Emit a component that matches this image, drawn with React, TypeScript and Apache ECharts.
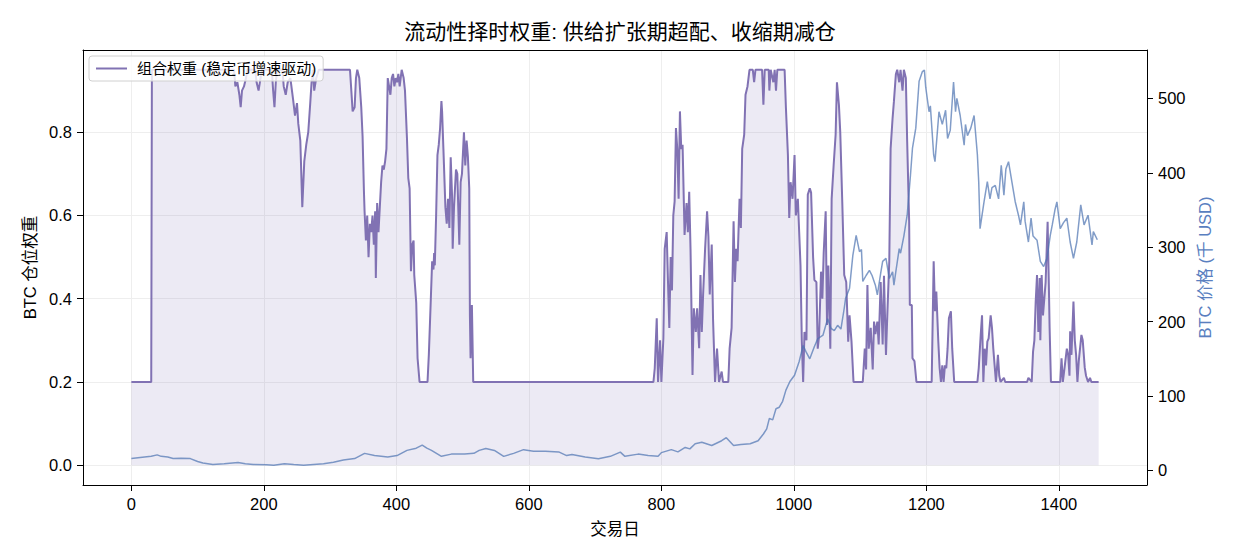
import React, { useEffect, useRef } from "react";
import * as echarts from "echarts";

const titleText = "流动性择时权重: 供给扩张期超配、收缩期减仓";
const weightName = "组合权重 (稳定币增速驱动)";
const xName = "交易日";
const leftName = "BTC 仓位权重";
const rightName = "BTC 价格 (千 USD)";

const xTicks = [0, 200, 400, 600, 800, 1000, 1200, 1400];
const leftTicks = [0, 0.2, 0.4, 0.6, 0.8];
const rightTicks = [0, 100, 200, 300, 400, 500];

// [trading day, weight]
const weightPoints: [number, number][] = [
  [0, 0.2], [30, 0.2], [31, 0.95], [155, 0.95], [157, 0.91], [160, 0.92], [163, 0.89], [165, 0.86],
  [167, 0.9], [170, 0.91], [173, 0.93], [175, 0.95], [187, 0.95], [189, 0.92], [192, 0.9], [195, 0.93],
  [197, 0.95], [212, 0.95], [214, 0.9], [216, 0.86], [218, 0.92], [220, 0.95], [228, 0.95], [230, 0.91],
  [233, 0.89], [236, 0.92], [240, 0.93], [244, 0.88], [247, 0.84], [250, 0.87], [252, 0.82], [255, 0.78],
  [258, 0.62], [261, 0.73], [264, 0.77], [267, 0.8], [270, 0.87], [272, 0.92], [274, 0.95], [276, 0.9],
  [279, 0.93], [283, 0.95], [330, 0.95], [332, 0.9], [334, 0.85], [337, 0.86], [339, 0.93], [341, 0.95],
  [344, 0.93], [347, 0.86], [349, 0.79], [351, 0.66], [352, 0.61], [354, 0.54], [356, 0.6], [358, 0.5],
  [360, 0.58], [362, 0.56], [364, 0.6], [366, 0.53], [368, 0.61], [369, 0.45], [371, 0.63], [373, 0.56],
  [375, 0.62], [377, 0.68], [379, 0.72], [381, 0.71], [383, 0.73], [385, 0.76], [387, 0.93], [389, 0.91],
  [391, 0.89], [393, 0.93], [395, 0.94], [397, 0.91], [399, 0.93], [401, 0.92], [403, 0.94], [405, 0.91],
  [408, 0.95], [411, 0.93], [413, 0.9], [416, 0.785], [418, 0.69], [420, 0.665], [422, 0.466], [424, 0.53],
  [426, 0.54], [427, 0.457], [430, 0.39], [432, 0.257], [435, 0.2], [447, 0.2], [449, 0.265], [452, 0.4],
  [454, 0.49], [456, 0.47], [457, 0.51], [458, 0.48], [460, 0.6], [462, 0.745], [464, 0.77], [466, 0.81],
  [468, 0.875], [469, 0.85], [471, 0.76], [474, 0.62], [476, 0.58], [478, 0.64], [480, 0.57], [482, 0.74],
  [484, 0.65], [485, 0.52], [487, 0.62], [490, 0.71], [492, 0.7], [495, 0.53], [497, 0.68], [499, 0.7],
  [502, 0.8], [504, 0.72], [506, 0.78], [508, 0.74], [510, 0.665], [511, 0.36], [512, 0.257], [514, 0.385],
  [516, 0.2], [788, 0.2], [790, 0.233], [793, 0.353], [795, 0.2], [798, 0.3], [800, 0.2], [803, 0.305],
  [805, 0.52], [808, 0.56], [810, 0.44], [812, 0.33], [814, 0.5], [816, 0.42], [818, 0.6], [820, 0.634],
  [822, 0.81], [824, 0.76], [826, 0.64], [828, 0.85], [830, 0.76], [832, 0.77], [835, 0.553], [838, 0.63],
  [840, 0.56], [842, 0.657], [844, 0.52], [847, 0.217], [849, 0.377], [852, 0.32], [854, 0.377], [857, 0.281],
  [859, 0.457], [861, 0.32], [863, 0.41], [866, 0.52], [869, 0.61], [871, 0.55], [873, 0.41], [876, 0.53],
  [878, 0.35], [881, 0.2], [884, 0.28], [887, 0.2], [891, 0.225], [893, 0.2], [901, 0.2], [903, 0.28],
  [906, 0.33], [909, 0.586], [911, 0.44], [913, 0.52], [915, 0.49], [918, 0.64], [920, 0.57], [922, 0.76],
  [925, 0.794], [927, 0.89], [930, 0.91], [933, 0.95], [938, 0.95], [940, 0.92], [942, 0.95], [952, 0.95],
  [954, 0.866], [956, 0.95], [962, 0.95], [963, 0.9], [965, 0.95], [969, 0.92], [971, 0.95], [973, 0.9],
  [975, 0.95], [986, 0.95], [988, 0.858], [991, 0.745], [993, 0.594], [995, 0.68], [998, 0.64], [1001, 0.745],
  [1003, 0.6], [1006, 0.64], [1008, 0.56], [1010, 0.48], [1012, 0.297], [1014, 0.2], [1016, 0.32], [1019, 0.3],
  [1021, 0.65], [1024, 0.665], [1026, 0.655], [1029, 0.5], [1031, 0.445], [1034, 0.44], [1036, 0.28], [1038, 0.31],
  [1041, 0.465], [1043, 0.4], [1045, 0.51], [1048, 0.61], [1050, 0.337], [1052, 0.48], [1055, 0.28], [1057, 0.64],
  [1060, 0.72], [1063, 0.794], [1065, 0.92], [1068, 0.865], [1070, 0.8], [1073, 0.634], [1076, 0.457], [1079, 0.44],
  [1082, 0.297], [1084, 0.36], [1087, 0.297], [1090, 0.2], [1104, 0.2], [1107, 0.28], [1109, 0.23], [1111, 0.433],
  [1113, 0.28], [1116, 0.33], [1119, 0.23], [1121, 0.345], [1123, 0.315], [1126, 0.345], [1128, 0.29], [1131, 0.44],
  [1134, 0.29], [1136, 0.455], [1139, 0.265], [1141, 0.36], [1144, 0.49], [1146, 0.76], [1149, 0.834], [1151, 0.874],
  [1154, 0.94], [1156, 0.95], [1159, 0.92], [1161, 0.95], [1164, 0.9], [1166, 0.95], [1169, 0.93], [1171, 0.778],
  [1174, 0.585], [1175, 0.385], [1178, 0.385], [1179, 0.257], [1182, 0.25], [1185, 0.2], [1208, 0.2], [1211, 0.49],
  [1213, 0.37], [1215, 0.417], [1218, 0.297], [1220, 0.233], [1222, 0.2], [1224, 0.24], [1226, 0.2], [1228, 0.24],
  [1230, 0.233], [1232, 0.28], [1234, 0.353], [1237, 0.37], [1239, 0.28], [1242, 0.2], [1277, 0.2], [1279, 0.233],
  [1282, 0.313], [1284, 0.36], [1286, 0.2], [1288, 0.28], [1290, 0.24], [1292, 0.297], [1294, 0.305], [1297, 0.36],
  [1299, 0.33], [1301, 0.28], [1303, 0.24], [1305, 0.2], [1308, 0.265], [1310, 0.215], [1312, 0.2], [1317, 0.21],
  [1319, 0.2], [1352, 0.2], [1354, 0.21], [1359, 0.2], [1361, 0.273], [1363, 0.3], [1365, 0.393], [1367, 0.457],
  [1369, 0.32], [1371, 0.45], [1372, 0.3], [1374, 0.457], [1376, 0.36], [1378, 0.4], [1380, 0.44], [1383, 0.585],
  [1385, 0.42], [1386, 0.33], [1388, 0.2], [1402, 0.2], [1404, 0.257], [1406, 0.2], [1409, 0.24], [1412, 0.28],
  [1414, 0.265], [1416, 0.215], [1417, 0.322], [1419, 0.265], [1422, 0.393], [1424, 0.3], [1426, 0.265], [1428, 0.2],
  [1430, 0.25], [1434, 0.313], [1436, 0.3], [1439, 0.235], [1441, 0.215], [1444, 0.2], [1447, 0.21], [1449, 0.2],
  [1460, 0.2],
];

// [trading day, BTC price in thousand USD]
const pricePoints: [number, number][] = [
  [0, 16], [10, 17], [20, 18], [30, 19], [39, 21], [45, 19], [55, 18], [63, 16], [75, 16.5], [89, 16],
  [100, 12], [108, 10], [123, 8], [140, 9], [161, 10.8], [172, 9], [184, 8], [204, 7.6], [215, 7], [231, 9],
  [245, 8], [260, 7], [275, 8], [290, 9], [305, 11], [320, 14], [337, 16], [352, 23], [367, 20], [387, 18],
  [401, 20], [416, 27], [430, 30], [439, 34], [446, 30], [453, 27], [468, 19], [483, 22], [503, 22], [517, 23],
  [525, 27], [535, 29.6], [548, 27], [562, 19], [577, 23], [592, 28], [607, 26], [625, 26], [645, 25], [657, 20],
  [665, 21.5], [685, 18], [705, 15.7], [723, 19], [738, 24.6], [745, 19], [765, 22], [780, 20], [795, 19], [800, 24],
  [815, 28], [825, 25], [836, 31], [843, 29], [851, 36], [861, 38], [876, 33.6], [891, 40], [898, 44], [909, 33.6],
  [920, 35], [934, 36], [946, 40], [954, 49], [959, 56], [963, 70], [968, 68], [973, 83], [978, 85], [983, 93],
  [988, 108], [994, 119.6], [1001, 128], [1008, 146.5], [1014, 168], [1018, 160], [1024, 150], [1031, 166.6], [1036, 177], [1044, 182],
  [1051, 204], [1056, 191], [1061, 188], [1066, 195], [1071, 190], [1076, 218], [1078, 231], [1084, 245], [1089, 289], [1094, 316],
  [1099, 294], [1102, 297], [1104, 254], [1109, 262], [1114, 269], [1118, 262], [1123, 249], [1126, 236], [1131, 265], [1134, 281],
  [1139, 285], [1144, 258], [1149, 267], [1151, 249], [1154, 268], [1159, 298], [1161, 292], [1166, 315], [1171, 343], [1176, 397],
  [1179, 433], [1184, 460], [1189, 523], [1194, 536], [1197, 538], [1199, 515], [1204, 482], [1206, 490], [1211, 424], [1213, 415],
  [1219, 482], [1224, 465], [1229, 484], [1232, 446], [1236, 457], [1241, 522], [1244, 482], [1246, 500], [1251, 477], [1257, 437],
  [1259, 465], [1262, 450], [1267, 460], [1272, 477], [1277, 424], [1279, 388], [1281, 325], [1287, 361], [1292, 388], [1296, 365],
  [1299, 380], [1304, 383], [1309, 365], [1313, 410], [1317, 370], [1320, 405], [1324, 415], [1329, 388], [1334, 361.5], [1339, 343],
  [1342, 330], [1347, 361], [1349, 335], [1354, 307], [1358, 339], [1361, 315], [1367, 309.5], [1372, 281], [1377, 274], [1382, 285],
  [1387, 316], [1390, 330], [1394, 350], [1397, 361], [1402, 325], [1407, 333], [1412, 339], [1417, 307], [1422, 285], [1427, 307],
  [1433, 357], [1438, 330], [1444, 343], [1450, 303], [1452, 321], [1458, 310],
];

const FONT = "'Liberation Sans', 'Noto Sans CJK SC', sans-serif";
const PURPLE = "#8172B3";
const BLUE = "#4C72B0";

export default function App() {
  const ref = useRef<HTMLDivElement>(null);

  useEffect(() => {
    if (!ref.current) return;
    const chart = echarts.init(ref.current, undefined, { renderer: "svg" });
    const axisLineStyle = { color: "#000", width: 1 };
    chart.setOption({
      animation: false,
      textStyle: { fontFamily: FONT },
      title: {
        text: titleText,
        left: 615,
        textAlign: "center",
        top: 16,
        textStyle: { fontFamily: FONT, fontSize: 21, fontWeight: "normal", color: "#000" },
      },
      legend: {
        data: [{ name: weightName, icon: "rect" }],
        left: 89,
        top: 56,
        padding: [5, 7, 5, 7],
        itemWidth: 31,
        itemHeight: 2,
        backgroundColor: "rgba(255,255,255,0.8)",
        borderColor: "#d0d0d0",
        borderWidth: 1,
        borderRadius: 3,
        textStyle: { fontFamily: FONT, fontSize: 15, color: "#000", padding: [0, 0, 0, 5] },
      },
      grid: { left: 83, right: 88, top: 50, bottom: 74, containLabel: false },
      xAxis: [
        {
          type: "value",
          min: -73,
          max: 1533,
          splitNumber: 8,
          name: xName,
          nameLocation: "middle",
          nameGap: 36,
          nameTextStyle: { fontFamily: FONT, fontSize: 16.5, color: "#000" },
          axisLine: { show: true, onZero: false, lineStyle: axisLineStyle },
          axisTick: { show: true, length: 6, customValues: xTicks, lineStyle: axisLineStyle },
          axisLabel: {
            customValues: xTicks,
            fontSize: 16.5,
            color: "#000",
            margin: 11,
            fontFamily: FONT,
            formatter: (v: number) => String(Math.round(v)),
          },
          splitLine: { show: true, lineStyle: { color: "#eeeeee", width: 1 } },
        },
        {
          type: "value",
          position: "top",
          min: -73,
          max: 1533,
          axisLine: { show: true, onZero: false, lineStyle: axisLineStyle },
          axisTick: { show: false },
          axisLabel: { show: false },
          splitLine: { show: false },
        },
      ],
      yAxis: [
        {
          type: "value",
          min: -0.0475,
          max: 0.9975,
          splitNumber: 5,
          name: leftName,
          nameLocation: "middle",
          nameGap: 45,
          nameRotate: 90,
          nameTextStyle: { fontFamily: FONT, fontSize: 16.5, color: "#000" },
          axisLine: { show: true, onZero: false, lineStyle: axisLineStyle },
          axisTick: { show: true, length: 6, customValues: leftTicks, lineStyle: axisLineStyle },
          axisLabel: {
            customValues: leftTicks,
            fontSize: 16.5,
            color: "#000",
            margin: 11,
            fontFamily: FONT,
            formatter: (v: number) => v.toFixed(1),
          },
          splitLine: { show: true, lineStyle: { color: "#eeeeee", width: 1 } },
        },
        {
          type: "value",
          position: "right",
          min: -19.5,
          max: 565,
          splitNumber: 5,
          name: rightName,
          nameLocation: "middle",
          nameGap: 49,
          nameRotate: 90,
          nameTextStyle: { fontFamily: FONT, fontSize: 16.5, color: "#5a7fbf" },
          axisLine: { show: true, onZero: false, lineStyle: axisLineStyle },
          axisTick: { show: true, length: 6, customValues: rightTicks, lineStyle: axisLineStyle },
          axisLabel: {
            customValues: rightTicks,
            fontSize: 16.5,
            color: "#000",
            margin: 11,
            fontFamily: FONT,
            formatter: (v: number) => String(Math.round(v)),
          },
          splitLine: { show: false },
        },
      ],
      series: [
        {
          name: weightName,
          type: "line",
          xAxisIndex: 0,
          yAxisIndex: 0,
          data: weightPoints,
          showSymbol: false,
          symbol: "none",
          lineStyle: { color: PURPLE, width: 2 },
          itemStyle: { color: PURPLE },
          areaStyle: { color: PURPLE, opacity: 0.15 },
          z: 2,
        },
        {
          name: "BTC",
          type: "line",
          xAxisIndex: 0,
          yAxisIndex: 1,
          data: pricePoints,
          showSymbol: false,
          symbol: "none",
          lineStyle: { color: BLUE, width: 1.5, opacity: 0.7 },
          itemStyle: { color: BLUE },
          z: 3,
        },
      ],
    });
    return () => chart.dispose();
  }, []);

  return (
    <div
      ref={ref}
      style={{ position: "absolute", left: 0, top: 0, width: 1235, height: 559, background: "#fff" }}
    />
  );
}
